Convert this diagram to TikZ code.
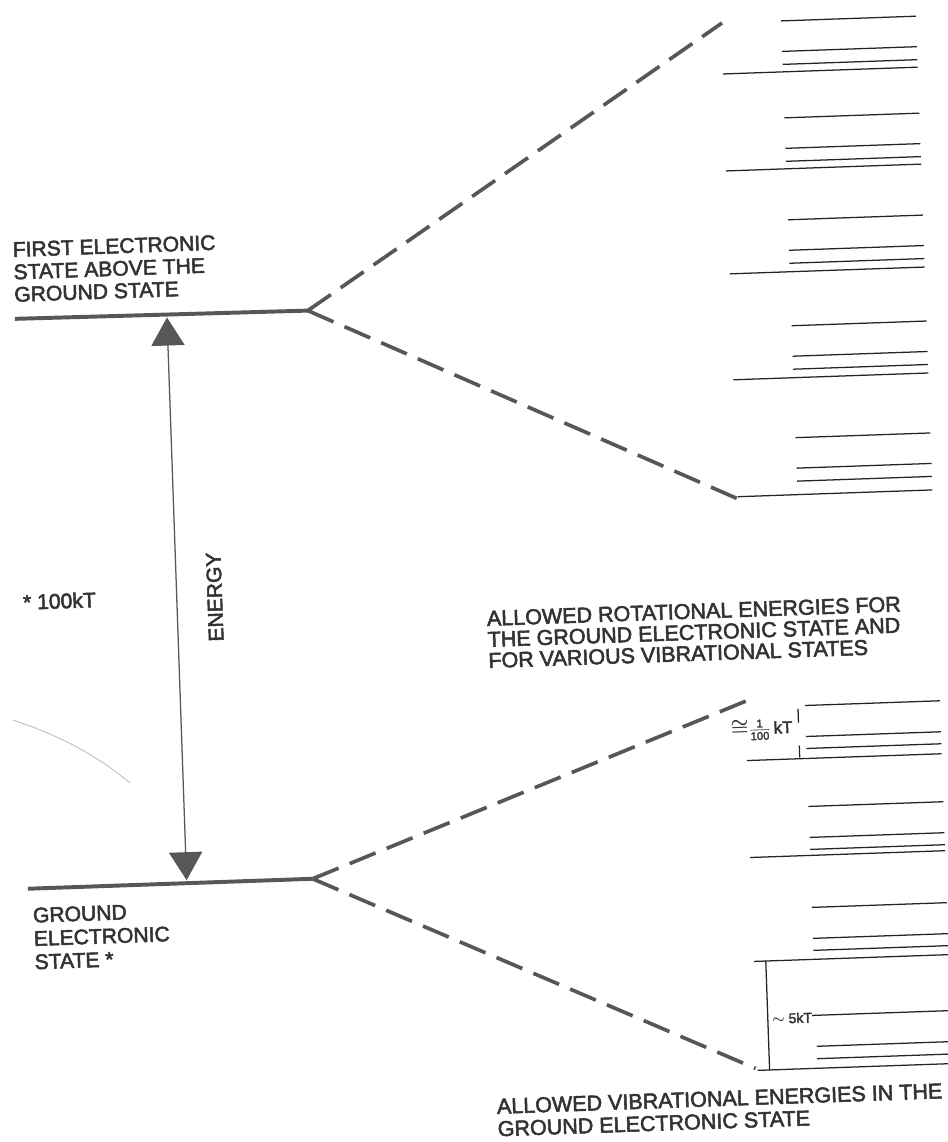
\documentclass[tikz,border=0pt]{standalone}
\usepackage{amsmath}
\usepackage{fontspec}
\setmainfont{Liberation Sans}[FakeBold=2.5]
\usepackage{tikz}
\usetikzlibrary{arrows.meta}
\definecolor{scangray}{rgb}{0.34,0.34,0.34}
\definecolor{inkblack}{rgb}{0.14,0.14,0.14}
\definecolor{textgray}{rgb}{0.2,0.2,0.2}

\begin{document}
\begin{tikzpicture}[x=0.025cm, y=-0.025cm,
    elevel/.style={scangray, line width=2.8pt},
    fanline/.style={scangray, line width=2.6pt, dash pattern=on 0.7cm off 0.3cm},
    rotline/.style={inkblack, line width=0.9pt},
    earrow/.style={scangray, line width=0.9pt, <->, >={Triangle[length=0.7cm, width=0.83cm]}},
    lbl/.style={textgray, inner sep=0pt, align=left, font=\fontsize{15}{16}\selectfont}]
        \fill[white] (0,0) rectangle (947,1142);
        \useasboundingbox (0,0) rectangle (947,1142);

    % the scan is turned by about 2 degrees
    \begin{scope}[rotate around={2:(473,571)}, transform shape]
        % electronic states
        \coordinate (upjoin) at (317,305);
        \coordinate (gdjoin) at (302,873);
        \draw[elevel] (24,303) -- (upjoin);
        \draw[elevel] (17,873) -- (gdjoin);

        % energy gap
        \draw[earrow] (176,307) -- (176,870);
        \node[lbl, rotate=90] (energylbl) at (214,588) {ENERGY};
        \node[lbl, anchor=base west] (hundredkt) at (22,594) {* 100kT};

        % fans
        \coordinate (upA) at (741,32);
        \coordinate (upB) at (742,509);
        \coordinate (gdA) at (748,708);
        \coordinate (gdB) at (738,1078);
        \draw[fanline] (upjoin) -- (upA);
        \draw[fanline] (upjoin) -- (upB);
        \draw[fanline] (gdjoin) -- (gdA);
        \draw[fanline] (gdjoin) -- (gdB);

        % rotational levels of the upper state
        \foreach \t/\l in {32/83,129/180,231/283,337/389,449/506}{
            \foreach \d in {0,30.5,43.5}
                \draw[rotline] (800,\t+\d) -- (935,\t+\d);
            \draw[rotline] (740,\l) -- (935,\l);
        }

        % rotational levels of the ground state
        \foreach \t/\l in {717/770,818/867,919/971}{
            \foreach \d in {0,31,43}
                \draw[rotline] (800,\t+\d) -- (935,\t+\d);
            \draw[rotline] (740,\l) -- (935,\l);
        }
        \node[lbl, font=\fontsize{10}{12}\selectfont, anchor=base west] (fivekt) at (756,1034) {$\boldsymbol{\sim}$ 5kT};
        \coordinate (d5) at (935,1027);
        \draw[rotline] (fivekt.east |- d5) -- (d5);
        \foreach \d in {31,43.4}
            \draw[rotline] (800,1027+\d) -- (935,1027+\d);
        \draw[rotline] (740,1080) -- (935,1080);
        \draw[rotline] (752,971) -- (752,1080);

        % spacing marks
        \node[lbl, font=\fontsize{12}{14}\selectfont, anchor=base east] (kTlbl) at (787,744) {{\fontsize{15}{15}\selectfont$\boldsymbol{\cong}$}$\frac{\text{1}}{\text{100}}$\,kT};
        \draw[rotline] (793,720) -- (793,734);
        \draw[rotline] (793,757) -- (793,769);

        % labels
        \node[lbl, anchor=north west] (firstlbl) at (24,226) {FIRST ELECTRONIC\\STATE ABOVE THE\\GROUND STATE};
        \node[lbl, anchor=north west, font=\fontsize{15}{16.6}\selectfont] (groundlbl) at (21,892) {GROUND\\ELECTRONIC\\STATE *};
        \node[lbl, anchor=north west, font=\fontsize{15.3}{15}\selectfont] (rotlbl) at (485,611) {ALLOWED ROTATIONAL ENERGIES FOR\\THE GROUND ELECTRONIC STATE AND\\FOR VARIOUS VIBRATIONAL STATES};
        \node[lbl, anchor=north west, font=\fontsize{15.3}{16}\selectfont] (viblbl) at (478,1099) {ALLOWED VIBRATIONAL ENERGIES IN THE\\GROUND ELECTRONIC STATE};

        % stray mark on the scan
        \draw[gray!60, line width=0.5pt] (8,704) .. controls (53,720) and (92,743) .. (123,771);
    \end{scope}
\end{tikzpicture}
\end{document}
